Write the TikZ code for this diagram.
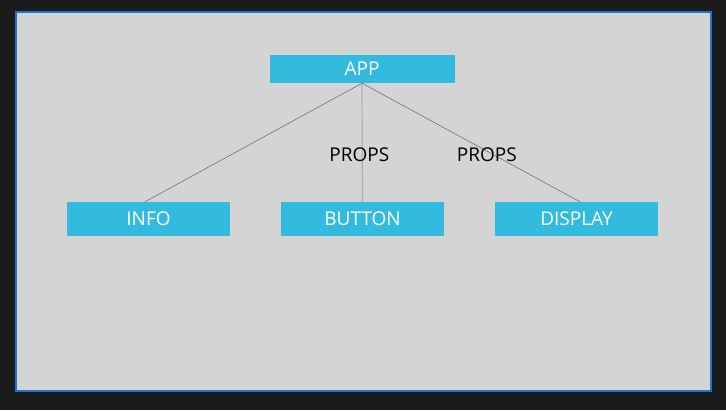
\documentclass[tikz,border=0pt]{standalone}
\usepackage{fontspec}
\setmainfont{Open Sans}
\usepackage{tikz}
\usetikzlibrary{positioning}
\definecolor{darkbg}{HTML}{1B1B1B}
\definecolor{panel}{HTML}{D4D4D4}
\definecolor{framecol}{HTML}{1A74D2}
\definecolor{boxblue}{HTML}{33BBDF}
\tikzset{
	block/.style={fill=boxblue,text=white,inner sep=0pt,minimum width=163pt,minimum height=34pt,font=\fontsize{19}{22}\selectfont},
	link/.style={draw=black!60,line width=0.5pt},
	trunk/.style={draw=black!30,line width=1.2pt},
	tag/.style={inner sep=1pt,font=\fontsize{19}{22}\selectfont}}

\begin{document}
\begin{tikzpicture}[x=1pt,y=-1pt]
	\fill[darkbg] (0,0) rectangle (726,410);
	\draw[framecol,line width=2pt,fill=panel] (16,12) rectangle (711,391);
	\node (app) at (362,69) [block,minimum width=185pt,minimum height=28pt] {APP};
	\node (info) at (148.5,219) [block] {INFO};
	\node (button) at (362.5,219) [block] {BUTTON};
	\node (display) at (576.5,219) [block] {DISPLAY};
	\draw [link] (app.south) -- ([xshift=-3.5pt]info.north);
	\draw [trunk] (app.south) -- node[tag,pos=0.6,xshift=-3pt]{PROPS} (button.north);
	\draw [link] (app.south) -- node[tag,pos=0.6,xshift=-6pt]{PROPS} ([xshift=3.5pt]display.north);
\end{tikzpicture}
\end{document}
